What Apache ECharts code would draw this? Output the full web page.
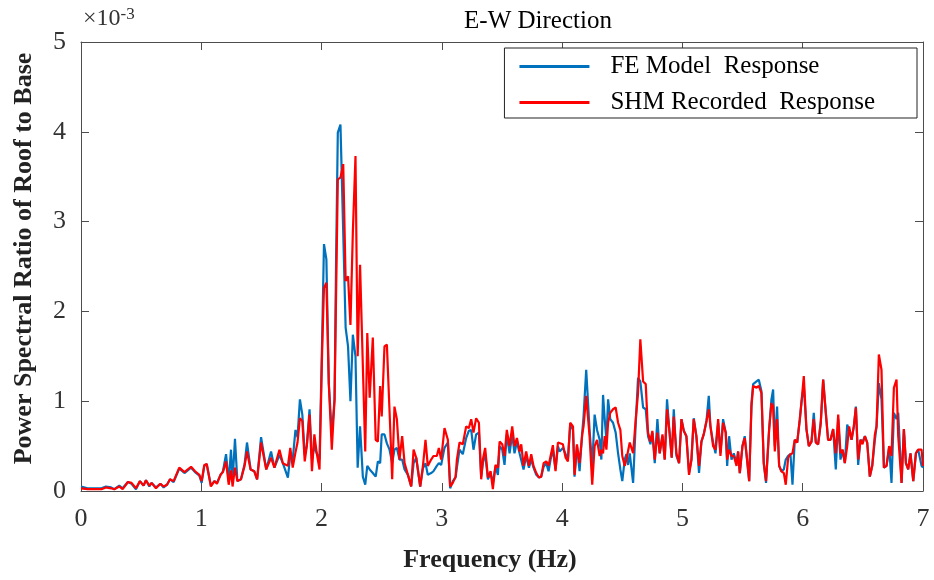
<!DOCTYPE html>
<html>
<head>
<meta charset="utf-8">
<script src="https://cdn.jsdelivr.net/npm/echarts@6/dist/echarts.min.js"></script>
<style>html,body{margin:0;padding:0;background:#fff}#c{width:934px;height:580px}</style>
</head>
<body>
<div id="c"></div>
<script>
// Frequency (Hz) sample positions
const freq = [0,0.055,0.11,0.17,0.207,0.25,0.277,0.318,0.346,0.39,0.42,0.457,0.49,0.52,0.54,0.568,0.587,0.623,0.66,0.687,0.715,0.74,0.77,0.817,0.86,0.915,0.948,0.984,1.003,1.025,1.045,1.08,1.109,1.13,1.16,1.18,1.206,1.228,1.247,1.26,1.28,1.3,1.33,1.36,1.38,1.41,1.44,1.464,1.497,1.54,1.58,1.608,1.65,1.678,1.72,1.74,1.76,1.783,1.8,1.82,1.84,1.86,1.877,1.9,1.92,1.94,1.96,1.983,2.005,2.02,2.04,2.06,2.085,2.108,2.12,2.135,2.157,2.18,2.2,2.22,2.24,2.26,2.282,2.3,2.32,2.343,2.363,2.38,2.4,2.426,2.45,2.468,2.487,2.5,2.523,2.543,2.565,2.587,2.606,2.626,2.648,2.67,2.69,2.718,2.745,2.765,2.787,2.82,2.842,2.864,2.883,2.911,2.93,2.958,2.975,2.994,3.022,3.05,3.069,3.091,3.114,3.125,3.147,3.174,3.202,3.224,3.244,3.263,3.285,3.308,3.327,3.341,3.36,3.383,3.405,3.424,3.446,3.466,3.48,3.502,3.521,3.54,3.563,3.585,3.604,3.624,3.646,3.66,3.679,3.701,3.724,3.743,3.762,3.785,3.807,3.826,3.846,3.868,3.887,3.904,3.923,3.945,3.965,3.979,4.006,4.029,4.048,4.067,4.09,4.103,4.123,4.145,4.167,4.178,4.2,4.228,4.25,4.27,4.29,4.312,4.326,4.34,4.354,4.368,4.382,4.4,4.423,4.445,4.465,4.484,4.5,4.52,4.534,4.548,4.562,4.59,4.612,4.631,4.65,4.673,4.695,4.714,4.734,4.75,4.77,4.792,4.811,4.834,4.853,4.872,4.895,4.911,4.928,4.95,4.972,4.992,5.011,5.033,5.055,5.075,5.094,5.116,5.138,5.158,5.177,5.2,5.219,5.233,5.255,5.275,5.297,5.316,5.338,5.36,5.372,5.388,5.408,5.427,5.45,5.463,5.477,5.499,5.518,5.532,5.555,5.574,5.588,5.616,5.635,5.657,5.676,5.695,5.721,5.74,5.754,5.768,5.787,5.804,5.823,5.843,5.859,5.879,5.898,5.915,5.934,5.954,5.976,5.992,6.009,6.031,6.051,6.073,6.092,6.109,6.128,6.15,6.17,6.192,6.211,6.231,6.253,6.275,6.295,6.314,6.331,6.35,6.37,6.386,6.406,6.425,6.442,6.461,6.48,6.497,6.517,6.536,6.558,6.578,6.6,6.614,6.633,6.655,6.675,6.697,6.719,6.738,6.758,6.78,6.794,6.822,6.841,6.858,6.877,6.896,6.919,6.941,6.96,6.988,7.0];

// FE Model Response (x10^-3)
const feModel = [0.05,0.03,0.03,0.03,0.05,0.04,0.02,0.06,0.03,0.10,0.08,0.02,0.11,0.06,0.12,0.05,0.09,0.04,0.08,0.04,0.07,0.13,0.10,0.25,0.20,0.26,0.21,0.17,0.09,0.28,0.30,0.06,0.11,0.09,0.18,0.22,0.41,0.10,0.46,0.10,0.58,0.11,0.13,0.30,0.54,0.24,0.22,0.13,0.60,0.24,0.44,0.26,0.40,0.31,0.15,0.40,0.35,0.68,0.60,1.02,0.85,0.40,0.50,0.91,0.35,0.50,0.42,0.35,1.70,2.75,2.58,1.20,0.64,1.02,2.50,3.99,4.08,2.88,1.82,1.61,1.00,1.74,1.50,0.26,0.72,0.16,0.07,0.28,0.24,0.20,0.16,0.33,0.31,0.63,0.63,0.53,0.46,0.31,0.46,0.48,0.35,0.35,0.24,0.18,0.05,0.31,0.37,0.05,0.25,0.31,0.18,0.20,0.22,0.28,0.31,0.29,0.48,0.54,0.03,0.11,0.15,0.26,0.46,0.41,0.59,0.67,0.68,0.46,0.63,0.65,0.16,0.31,0.42,0.13,0.20,0.09,0.27,0.18,0.50,0.46,0.29,0.63,0.42,0.63,0.42,0.55,0.42,0.44,0.24,0.39,0.26,0.35,0.26,0.18,0.15,0.16,0.27,0.31,0.22,0.35,0.46,0.24,0.50,0.44,0.48,0.41,0.35,0.74,0.68,0.16,0.50,0.22,0.65,0.83,1.35,0.68,0.27,0.85,0.68,0.57,0.35,1.07,0.80,0.57,1.02,0.80,0.76,0.65,0.42,0.24,0.11,0.35,0.41,0.29,0.42,0.09,0.76,1.26,1.22,0.93,0.91,0.61,0.52,0.65,0.31,0.80,0.42,0.61,0.35,1.02,0.61,0.37,0.91,0.39,0.31,0.80,0.67,0.61,0.20,0.35,0.81,0.61,0.20,0.55,0.63,0.78,1.06,0.72,0.54,0.42,0.76,0.42,0.80,0.65,0.28,0.61,0.35,0.42,0.31,0.44,0.20,0.50,0.61,0.42,0.11,0.98,1.19,1.22,1.24,1.11,0.31,0.09,0.69,1.02,1.13,0.50,0.94,0.28,0.22,0.24,0.35,0.39,0.41,0.07,0.57,0.54,0.80,1.02,1.17,0.69,0.50,0.55,0.87,0.54,0.52,0.76,1.24,0.87,0.57,0.57,0.69,0.24,0.80,0.35,0.46,0.31,0.74,0.74,0.57,0.72,0.94,0.29,0.57,0.55,0.61,0.54,0.16,0.28,0.57,0.72,1.20,1.02,0.26,0.28,0.50,0.09,0.87,0.80,0.87,0.09,0.69,0.31,0.24,0.42,0.11,0.42,0.46,0.28,0.26];

// SHM Recorded Response (x10^-3)
const shmRecorded = [0.03,0.02,0.02,0.02,0.04,0.03,0.02,0.05,0.02,0.10,0.09,0.03,0.11,0.06,0.12,0.06,0.09,0.03,0.08,0.05,0.07,0.13,0.11,0.26,0.21,0.27,0.22,0.18,0.11,0.29,0.30,0.05,0.11,0.08,0.18,0.21,0.33,0.07,0.23,0.05,0.26,0.11,0.13,0.28,0.44,0.24,0.22,0.13,0.54,0.24,0.37,0.26,0.46,0.31,0.28,0.48,0.26,0.43,0.54,0.81,0.78,0.33,0.50,0.85,0.22,0.63,0.42,0.24,1.58,2.26,2.32,1.20,0.46,1.02,2.13,3.47,3.49,3.64,2.34,2.39,1.85,2.88,3.73,1.50,2.52,1.40,0.44,1.76,1.04,1.71,0.57,0.55,1.17,0.83,1.61,1.63,0.89,0.13,0.94,0.80,0.35,0.61,0.31,0.18,0.05,0.46,0.37,0.05,0.27,0.57,0.28,0.35,0.39,0.39,0.48,0.35,0.70,0.57,0.05,0.09,0.16,0.35,0.54,0.52,0.72,0.70,0.80,0.65,0.81,0.76,0.13,0.35,0.48,0.15,0.22,0.02,0.29,0.26,0.55,0.52,0.39,0.68,0.50,0.72,0.50,0.59,0.44,0.52,0.28,0.44,0.28,0.41,0.28,0.20,0.15,0.16,0.31,0.33,0.28,0.39,0.51,0.22,0.54,0.52,0.52,0.37,0.33,0.76,0.72,0.18,0.52,0.31,0.63,0.72,1.06,0.61,0.07,0.50,0.57,0.39,0.46,0.42,0.61,0.46,0.76,0.87,0.91,0.93,0.76,0.68,0.39,0.28,0.35,0.33,0.54,0.42,0.80,1.09,1.69,1.22,1.19,0.65,0.55,0.67,0.35,0.65,0.42,0.63,0.35,0.91,0.63,0.37,0.83,0.42,0.31,0.80,0.67,0.61,0.18,0.35,0.80,0.61,0.28,0.55,0.63,0.78,0.91,0.72,0.50,0.46,0.80,0.39,0.76,0.65,0.35,0.46,0.39,0.39,0.28,0.44,0.20,0.50,0.59,0.42,0.11,0.94,1.17,1.15,1.17,1.09,0.31,0.11,0.69,0.98,0.94,0.44,0.80,0.28,0.22,0.20,0.07,0.37,0.41,0.42,0.57,0.54,0.80,1.02,1.28,0.69,0.50,0.55,0.80,0.54,0.52,0.76,1.24,0.87,0.57,0.57,0.69,0.42,0.85,0.42,0.46,0.31,0.50,0.72,0.57,0.72,0.93,0.35,0.57,0.52,0.61,0.54,0.16,0.28,0.63,0.72,1.52,1.35,0.26,0.28,0.50,0.39,1.15,1.24,0.61,0.09,0.69,0.31,0.24,0.42,0.11,0.42,0.46,0.46,0.28];

const xTicks = [0,1,2,3,4,5,6,7];
const yTicks = [0,1,2,3,4,5];

const FONT = '"Liberation Serif", "DejaVu Serif", serif';
const AXC = '#4d4d4d';

const pair = (ys) => freq.map((f, i) => [f, ys[i]]);

const chart = echarts.init(document.getElementById('c'), null, {renderer: 'canvas'});
const axisLineStyle = {show: true, onZero: false, lineStyle: {color: AXC, width: 1}};
const tickStyle = {show: true, inside: true, length: 8, lineStyle: {color: AXC}};
chart.setOption({
  animation: false,
  backgroundColor: '#fff',
  title: {
    text: 'E-W Direction', left: 533, top: 4, textAlign: 'center',
    textStyle: {fontFamily: FONT, fontWeight: 'normal', fontSize: 25, color: '#000'}
  },
  graphic: [{
    type: 'text', left: 83, top: 6,
    style: {
      text: '×10{s|-3}', fontFamily: FONT, fontSize: 24, fill: '#333',
      rich: {s: {fontFamily: FONT, fontSize: 17, verticalAlign: 'top', padding: [0,0,9,0], fill: '#333'}}
    }
  }],
  legend: {
    orient: 'vertical', right: 17, top: 48,
    backgroundColor: '#fff', borderColor: '#222', borderWidth: 1,
    padding: [6, 42, 3, 15], itemGap: 11,
    itemWidth: 70, itemHeight: 3, icon: 'rect',
    textStyle: {fontFamily: FONT, fontSize: 25, color: '#000', padding: [0, 0, 0, 16]},
    data: ['FE Model  Response', 'SHM Recorded  Response']
  },
  grid: {left: 81, right: 11, top: 42, bottom: 89, containLabel: false},
  xAxis: [{
    type: 'value', min: xTicks[0], max: xTicks[xTicks.length - 1], interval: 1,
    name: 'Frequency (Hz)', nameLocation: 'middle', nameGap: 56,
    nameTextStyle: {fontFamily: FONT, fontWeight: 'bold', fontSize: 26, color: '#222', padding: [0, 24, 0, 0]},
    axisLine: axisLineStyle, axisTick: tickStyle,
    axisLabel: {fontFamily: FONT, fontSize: 26, color: '#333', margin: 15},
    splitLine: {show: false}
  }, {
    type: 'value', position: 'top', min: xTicks[0], max: xTicks[xTicks.length - 1], interval: 1,
    axisLine: axisLineStyle, axisTick: tickStyle,
    axisLabel: {show: false}, splitLine: {show: false}
  }],
  yAxis: [{
    type: 'value', min: yTicks[0], max: yTicks[yTicks.length - 1], interval: 1,
    name: 'Power Spectral Ratio of Roof to Base', nameLocation: 'middle', nameGap: 44,
    nameTextStyle: {fontFamily: FONT, fontWeight: 'bold', fontSize: 26, color: '#222', padding: [0, 0, 0, 16]},
    axisLine: axisLineStyle, axisTick: tickStyle,
    axisLabel: {fontFamily: FONT, fontSize: 26, color: '#333', margin: 15},
    splitLine: {show: false}
  }, {
    type: 'value', position: 'right', min: yTicks[0], max: yTicks[yTicks.length - 1], interval: 1,
    axisLine: axisLineStyle, axisTick: tickStyle,
    axisLabel: {show: false}, splitLine: {show: false}
  }],
  series: [{
    name: 'FE Model  Response', type: 'line', data: pair(feModel),
    showSymbol: false, symbol: 'none', lineStyle: {color: '#0072BD', width: 2.2},
    itemStyle: {color: '#0072BD'}, z: 2
  }, {
    name: 'SHM Recorded  Response', type: 'line', data: pair(shmRecorded),
    showSymbol: false, symbol: 'none', lineStyle: {color: '#FF0000', width: 2.2},
    itemStyle: {color: '#FF0000'}, z: 3
  }]
});
</script>
</body>
</html>
